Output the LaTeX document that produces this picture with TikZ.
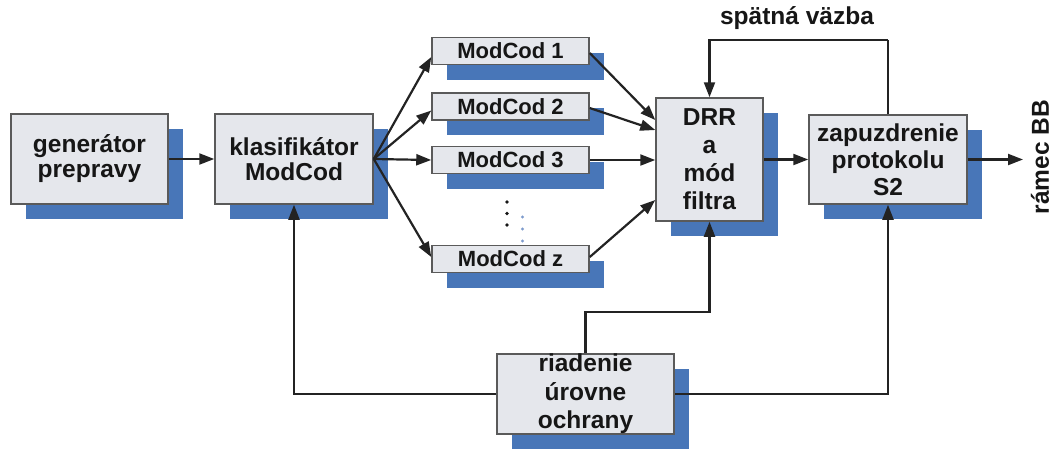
\documentclass[tikz,border=0pt]{standalone}
\usepackage{fontspec}
\setmainfont{Liberation Sans}
\usetikzlibrary{arrows.meta,shadows}
\definecolor{shadowblue}{RGB}{72,118,184}
\definecolor{boxfill}{RGB}{229,231,236}
\definecolor{boxline}{RGB}{90,90,90}
\definecolor{wire}{RGB}{35,35,35}
\definecolor{dotblue}{RGB}{125,155,205}
\definecolor{ink}{RGB}{22,22,22}

\tikzset{
  block/.style={draw=boxline, line width=1.5pt, fill=boxfill, inner sep=0pt,
    align=center, text=ink,
    general shadow={fill=shadowblue, shadow xshift=15pt, shadow yshift=-15pt},
    font=\bfseries\fontsize{24.5}{25}\selectfont},
  modbox/.style={block, minimum width=157pt, minimum height=27pt,
    font=\bfseries\fontsize{22}{24}\selectfont},
  wire/.style={draw=wire, line width=2.2pt, -{Triangle[length=15pt,width=11pt]}},
  plainwire/.style={draw=wire, line width=2.2pt},
  lbl/.style={inner sep=0pt, text=ink, font=\bfseries\fontsize{24.5}{28}\selectfont}
}

\begin{document}
\begin{tikzpicture}[x=1pt,y=-1pt]
\useasboundingbox (0,0) rectangle (1052,448);

% processing blocks
\node[block, minimum width=157pt, minimum height=90pt] (gen) at (89.5,159) {generátor\\prepravy};
\node[block, minimum width=158pt, minimum height=90pt] (klas) at (294,159) {klasifikátor\\ModCod};

\node[modbox] (mc1) at (510.5,51) {ModCod 1};
\node[modbox] (mc2) at (510.5,106.5) {ModCod 2};
\node[modbox] (mc3) at (510.5,160) {ModCod 3};
\node[modbox] (mcz) at (510.5,259) {ModCod z};

\node[block, minimum width=107pt, minimum height=123pt,
      font=\bfseries\fontsize{24.5}{28}\selectfont] (drr) at (709.5,159.5) {DRR\\a\\mód\\filtra};
\node[block, minimum width=158pt, minimum height=89pt,
      font=\bfseries\fontsize{24.5}{27}\selectfont] (zap) at (888,159.5) {zapuzdrenie\\protokolu\\S2};
\node[block, minimum width=177pt, minimum height=80pt,
      font=\bfseries\fontsize{24.5}{28.5}\selectfont] (riad) at (585.5,394) {riadenie\\úrovne\\ochrany};

% ellipsis between ModCod 3 and ModCod z
\fill[ink] (507,202) circle (1.8pt) (507,213.5) circle (1.8pt) (507,225) circle (1.8pt);
\fill[dotblue] (522.5,217) circle (1.7pt) (522.5,229) circle (1.7pt) (522.5,241) circle (1.7pt);

% labels
\node[lbl] (fblabel) at (797,18) {spätná väzba};
\node[lbl, rotate=90] (ramec) at (1040,157) {rámec BB};
\coordinate (out) at (1023,159.5);
\coordinate (fbtop) at (888,40);

% main signal path
\draw[wire] (gen.east) -- (klas.west);
\draw[wire] (klas.east) -- ([yshift=-6pt]mc1.west);
\draw[wire] (klas.east) -- ([yshift=-4pt]mc2.west);
\draw[wire] (klas.east) -- (mc3.west);
\draw[wire] (klas.east) -- ([yshift=2pt]mcz.west);

\draw[wire] ([yshift=-2pt]mc1.east) -- ([yshift=39.5pt]drr.west);
\draw[wire] ([yshift=-1.5pt]mc2.east) -- ([yshift=29.5pt]drr.west);
\draw[wire] (mc3.east) -- ([yshift=-0.5pt]drr.west);
\draw[wire] ([yshift=2pt]mcz.east) -- ([yshift=-40.5pt]drr.west);

\draw[wire] (drr.east) -- (zap.west);
\draw[wire] (zap.east) -- (out);

% feedback loop
\draw[plainwire] (zap.north) -- (fbtop);
\draw[wire] (fbtop) -| (drr.north);

% protection level control
\draw[wire] (riad.west) -| (klas.south);
\draw[wire] (riad.east) -| (zap.south);
\draw[wire] (riad.north) -- ++(0,-41) -| (drr.south);
\end{tikzpicture}
\end{document}
